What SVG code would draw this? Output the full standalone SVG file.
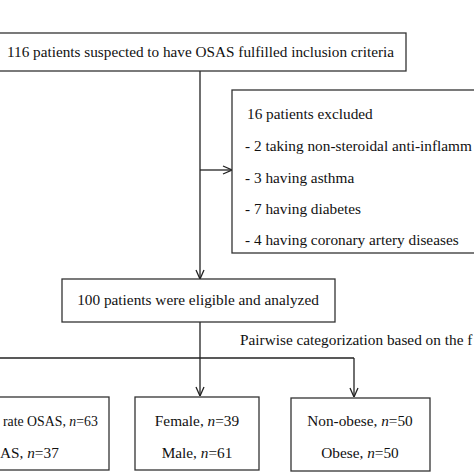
<svg xmlns="http://www.w3.org/2000/svg" width="474" height="474" viewBox="0 0 474 474">
<style>
.box{fill:#fff;stroke:#333;stroke-width:1.3}
.ln{fill:none;stroke:#222;stroke-width:1.3}
text{font-family:"Liberation Serif","Times New Roman",serif;font-size:15.3px;fill:#111}
.c{text-anchor:middle}
</style>
<defs>
<marker id="arr" viewBox="0 0 10 10" refX="10" refY="5" markerWidth="10" markerHeight="10" markerUnits="userSpaceOnUse" orient="auto">
<path d="M1,1 L10,5 L1,9" fill="none" stroke="#222" stroke-width="1.3"/>
</marker>
</defs>
<rect width="474" height="474" fill="#fff"/>
<g id="connectors">
<path class="ln" d="M200,71 V279" marker-end="url(#arr)"/>
<path class="ln" d="M200,170 H232" marker-end="url(#arr)"/>
<path class="ln" d="M200,322 V358"/>
<path class="ln" d="M-5,358 H354"/>
<path class="ln" d="M200,358 V396" marker-end="url(#arr)"/>
<path class="ln" d="M354,358 V397" marker-end="url(#arr)"/>
</g>
<g id="top">
<rect class="box" x="-5" y="33" width="411" height="38"/>
<text x="7" y="57" textLength="387" lengthAdjust="spacingAndGlyphs">116 patients suspected to have OSAS fulfilled inclusion criteria</text>
</g>
<g id="excluded">
<rect class="box" x="232" y="90" width="250" height="163"/>
<text x="247" y="119">16 patients excluded</text>
<text x="245" y="151">- 2 taking non-steroidal anti-inflamm</text>
<text x="245" y="183">- 3 having asthma</text>
<text x="245" y="214">- 7 having diabetes</text>
<text x="245" y="245">- 4 having coronary artery diseases</text>
</g>
<g id="eligible">
<rect class="box" x="62" y="279" width="273" height="43"/>
<text class="c" x="198" y="305">100 patients were eligible and analyzed</text>
</g>
<text x="240" y="345">Pairwise categorization based on the f</text>
<g id="osas">
<rect class="box" x="-5" y="397" width="114" height="73"/>
<text x="3" y="426" style="font-size:13.8px">rate OSAS, <tspan font-style="italic">n</tspan>=63</text>
<text x="0" y="458">AS, <tspan font-style="italic">n</tspan>=37</text>
</g>
<g id="sex">
<rect class="box" x="135" y="397" width="124" height="73"/>
<text class="c" x="197" y="426">Female, <tspan font-style="italic">n</tspan>=39</text>
<text class="c" x="197" y="458">Male, <tspan font-style="italic">n</tspan>=61</text>
</g>
<g id="obesity">
<rect class="box" x="291" y="398" width="139" height="73"/>
<text class="c" x="360" y="426">Non-obese, <tspan font-style="italic">n</tspan>=50</text>
<text class="c" x="360" y="458">Obese, <tspan font-style="italic">n</tspan>=50</text>
</g>
</svg>
